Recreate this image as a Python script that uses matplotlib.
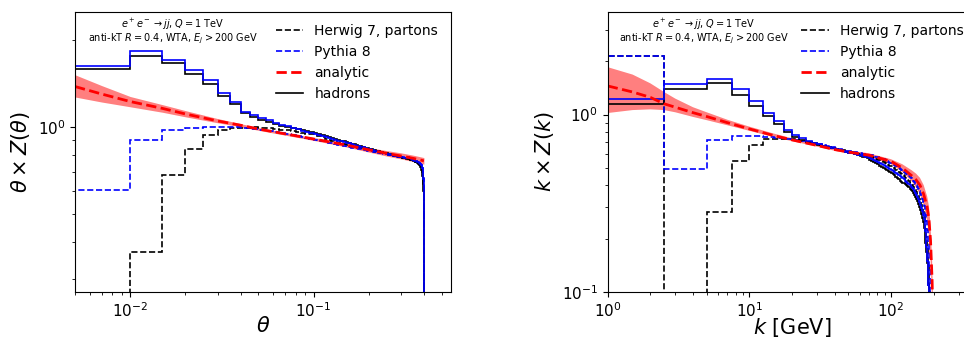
import numpy as np
import matplotlib
matplotlib.use('Agg')
import matplotlib.pyplot as plt
from matplotlib.lines import Line2D
from matplotlib.ticker import NullFormatter

# ---- left panel: theta, bins of 0.005 from 0 to 0.4 ----
theta_bin = 0.005

th_herwig_had = [3.0, 1.59, 1.765, 1.666, 1.527, 1.41, 1.285, 1.203, 1.12, 1.082,
                 1.054, 1.04, 1.025, 1.012, 1.0, 0.99, 0.982, 0.974, 0.967, 0.96,
                 0.955, 0.947, 0.939, 0.931, 0.924, 0.917, 0.911, 0.905, 0.899, 0.893,
                 0.888, 0.882, 0.877, 0.872, 0.867, 0.863, 0.858, 0.854, 0.849, 0.845,
                 0.841, 0.838, 0.835, 0.831, 0.828, 0.825, 0.822, 0.819, 0.816, 0.813,
                 0.811, 0.808, 0.806, 0.803, 0.80, 0.798, 0.796, 0.793, 0.791, 0.789,
                 0.787, 0.785, 0.783, 0.781, 0.779, 0.777, 0.775, 0.773, 0.771, 0.768,
                 0.765, 0.761, 0.757, 0.752, 0.746, 0.738, 0.727, 0.71, 0.68, 0.60]
th_pythia_had = [3.0, 1.62, 1.823, 1.697, 1.577, 1.456, 1.313, 1.219, 1.126, 1.10,
                 1.074, 1.054, 1.035, 1.02, 1.005, 0.993, 0.982, 0.972, 0.963, 0.955,
                 0.948, 0.94, 0.932, 0.925, 0.918, 0.911, 0.905, 0.899, 0.893, 0.888,
                 0.883, 0.878, 0.873, 0.868, 0.863, 0.859, 0.855, 0.851, 0.847, 0.843,
                 0.839, 0.836, 0.832, 0.829, 0.826, 0.823, 0.82, 0.817, 0.814, 0.812,
                 0.809, 0.807, 0.804, 0.802, 0.80, 0.797, 0.795, 0.793, 0.791, 0.789,
                 0.787, 0.786, 0.784, 0.782, 0.781, 0.782, 0.785, 0.781, 0.776, 0.772,
                 0.769, 0.766, 0.763, 0.76, 0.756, 0.752, 0.746, 0.738, 0.72, 0.66]
th_herwig_part = [30.0, 0.0, 0.371, 0.681, 0.842, 0.936, 0.981, 0.992, 0.995, 0.997,
                  0.995, 0.99, 0.985, 0.98, 0.974, 0.968, 0.961, 0.955, 0.949, 0.943,
                  0.937, 0.929, 0.921, 0.913, 0.905, 0.897, 0.89, 0.883, 0.876, 0.871,
                  0.866, 0.862, 0.858, 0.854, 0.85, 0.847, 0.844, 0.841, 0.838, 0.835,
                  0.832, 0.829, 0.826, 0.823, 0.82, 0.818, 0.815, 0.813, 0.81, 0.808,
                  0.806, 0.804, 0.802, 0.80, 0.798, 0.796, 0.794, 0.792, 0.79, 0.788,
                  0.786, 0.784, 0.782, 0.78, 0.778, 0.776, 0.774, 0.772, 0.77, 0.768,
                  0.766, 0.763, 0.76, 0.757, 0.753, 0.748, 0.74, 0.728, 0.70, 0.63]
th_pythia_part = [10.0, 0.609, 0.906, 0.981, 0.992, 0.998, 1.0, 0.998, 0.993, 0.985,
                  0.975, 0.968, 0.96, 0.952, 0.944, 0.937, 0.93, 0.923, 0.917, 0.911,
                  0.905, 0.899, 0.893, 0.888, 0.883, 0.878, 0.873, 0.869, 0.865, 0.861,
                  0.857, 0.853, 0.85, 0.847, 0.844, 0.841, 0.838, 0.835, 0.832, 0.83,
                  0.827, 0.825, 0.822, 0.82, 0.818, 0.816, 0.813, 0.811, 0.809, 0.807,
                  0.805, 0.803, 0.801, 0.799, 0.797, 0.795, 0.793, 0.791, 0.789, 0.787,
                  0.786, 0.784, 0.782, 0.781, 0.783, 0.787, 0.784, 0.779, 0.775, 0.772,
                  0.769, 0.766, 0.763, 0.76, 0.757, 0.753, 0.748, 0.741, 0.725, 0.67]

# analytic curve with uncertainty band
th_an = [0.005, 0.007, 0.01, 0.015, 0.02, 0.03, 0.04, 0.05, 0.07, 0.1, 0.15, 0.2, 0.25, 0.3, 0.35, 0.4]
th_an_c = [1.38, 1.30, 1.225, 1.16, 1.11, 1.05, 1.015, 0.985, 0.948, 0.91, 0.868, 0.835, 0.812, 0.795, 0.78, 0.765]
th_an_lo = [1.27, 1.22, 1.175, 1.125, 1.085, 1.035, 1.003, 0.975, 0.938, 0.90, 0.855, 0.82, 0.795, 0.777, 0.76, 0.745]
th_an_hi = [1.515, 1.39, 1.275, 1.195, 1.14, 1.07, 1.028, 0.996, 0.958, 0.921, 0.88, 0.85, 0.83, 0.815, 0.80, 0.785]

# ---- right panel: k [GeV], bins of 2.5 GeV from 0 to 200 ----
k_bin = 2.5

k_herwig_had = [1.154, 1.398, 1.497, 1.297, 1.124, 0.978, 0.88, 0.80, 0.752, 0.72,
                0.703, 0.688, 0.676, 0.665, 0.655, 0.646, 0.638, 0.631, 0.624, 0.618,
                0.61, 0.604, 0.598, 0.592, 0.586, 0.58, 0.573, 0.566, 0.558, 0.548,
                0.54, 0.532, 0.524, 0.516, 0.509, 0.502, 0.495, 0.488, 0.482, 0.476,
                0.47, 0.463, 0.455, 0.447, 0.439, 0.431, 0.425, 0.419, 0.414, 0.409,
                0.404, 0.399, 0.394, 0.389, 0.383, 0.377, 0.37, 0.362, 0.354, 0.345,
                0.335, 0.324, 0.313, 0.301, 0.289, 0.276, 0.262, 0.247, 0.23, 0.21,
                0.19, 0.168, 0.145, 0.11, 0.065, 0.03, 0.01, 0.003, 0.0, 0.0]
k_pythia_had = [1.216, 1.478, 1.592, 1.385, 1.189, 1.022, 0.917, 0.823, 0.771, 0.738,
                0.713, 0.695, 0.68, 0.667, 0.656, 0.646, 0.637, 0.629, 0.622, 0.616,
                0.61, 0.605, 0.6, 0.595, 0.59, 0.585, 0.579, 0.573, 0.567, 0.561,
                0.554, 0.547, 0.54, 0.533, 0.526, 0.519, 0.512, 0.505, 0.499, 0.493,
                0.487, 0.481, 0.475, 0.468, 0.461, 0.455, 0.449, 0.443, 0.437, 0.431,
                0.425, 0.419, 0.413, 0.407, 0.40, 0.393, 0.386, 0.379, 0.371, 0.362,
                0.353, 0.343, 0.333, 0.322, 0.311, 0.299, 0.286, 0.272, 0.257, 0.24,
                0.222, 0.18, 0.15, 0.11, 0.06, 0.03, 0.01, 0.003, 0.0, 0.0]
k_herwig_part = [2.13, 0.0, 0.282, 0.55, 0.677, 0.729, 0.733, 0.73, 0.725, 0.71,
                 0.698, 0.686, 0.675, 0.665, 0.656, 0.648, 0.641, 0.634, 0.628, 0.622,
                 0.617, 0.612, 0.607, 0.602, 0.598, 0.594, 0.59, 0.585, 0.58, 0.575,
                 0.57, 0.564, 0.558, 0.552, 0.546, 0.54, 0.534, 0.528, 0.522, 0.516,
                 0.51, 0.504, 0.497, 0.49, 0.483, 0.476, 0.469, 0.462, 0.455, 0.448,
                 0.441, 0.434, 0.427, 0.42, 0.413, 0.406, 0.399, 0.391, 0.383, 0.375,
                 0.366, 0.356, 0.346, 0.335, 0.323, 0.31, 0.296, 0.281, 0.264, 0.246,
                 0.226, 0.204, 0.178, 0.145, 0.10, 0.055, 0.02, 0.005, 0.0, 0.0]
k_pythia_part = [2.13, 0.493, 0.722, 0.754, 0.755, 0.75, 0.742, 0.733, 0.723, 0.713,
                 0.703, 0.692, 0.681, 0.671, 0.662, 0.654, 0.646, 0.639, 0.632, 0.626,
                 0.622, 0.618, 0.614, 0.61, 0.606, 0.602, 0.598, 0.595, 0.592, 0.589,
                 0.585, 0.58, 0.575, 0.57, 0.565, 0.56, 0.554, 0.548, 0.542, 0.536,
                 0.53, 0.524, 0.518, 0.512, 0.506, 0.50, 0.494, 0.488, 0.482, 0.476,
                 0.47, 0.464, 0.458, 0.452, 0.445, 0.438, 0.431, 0.424, 0.416, 0.408,
                 0.399, 0.39, 0.38, 0.37, 0.359, 0.347, 0.334, 0.32, 0.305, 0.288,
                 0.27, 0.25, 0.225, 0.19, 0.14, 0.08, 0.03, 0.008, 0.0, 0.0]

k_an = [1, 1.5, 2, 2.5, 3, 4, 5, 7, 10, 15, 20, 30, 40, 50, 70, 100, 120, 140, 150, 160, 170, 180, 185, 190, 195, 198, 200]
k_an_c = [1.45, 1.34, 1.25, 1.15, 1.10, 1.025, 0.975, 0.90, 0.83, 0.76, 0.72, 0.67, 0.635, 0.615, 0.59, 0.545,
          0.50, 0.452, 0.429, 0.40, 0.355, 0.30, 0.258, 0.195, 0.115, 0.06, 0.03]
k_an_lo = [1.02, 1.06, 1.07, 1.06, 1.03, 0.97, 0.93, 0.87, 0.81, 0.745, 0.708, 0.66, 0.625, 0.604, 0.575, 0.525,
           0.475, 0.42, 0.39, 0.355, 0.31, 0.25, 0.21, 0.155, 0.085, 0.04, 0.02]
k_an_hi = [1.85, 1.68, 1.50, 1.34, 1.23, 1.10, 1.03, 0.935, 0.855, 0.78, 0.735, 0.682, 0.647, 0.627, 0.605, 0.56,
           0.525, 0.485, 0.465, 0.44, 0.40, 0.345, 0.305, 0.24, 0.15, 0.09, 0.05]

annot = "$e^+e^-\\rightarrow jj$, $Q=1$ TeV\nanti-kT $R=0.4$, WTA, $E_j>200$ GeV"


def draw_panel(ax, edges, had_h, had_p, part_h, part_p, xa, ac, alo, ahi):
    ax.fill_between(xa, alo, ahi, color='r', alpha=0.5, lw=0)
    ax.plot(xa, ac, 'r--', lw=2)
    ax.stairs(part_h, edges, baseline=0, color='k', ls='--', lw=1.2)
    ax.stairs(part_p, edges, baseline=0, color='b', ls='--', lw=1.2)
    ax.stairs(had_h, edges, baseline=0, color='k', ls='-', lw=1.2)
    ax.stairs(had_p, edges, baseline=0, color='b', ls='-', lw=1.2)
    ax.set_xscale('log')
    ax.set_yscale('log')
    ax.yaxis.set_minor_formatter(NullFormatter())
    ax.xaxis.set_minor_formatter(NullFormatter())
    ax.tick_params(labelsize=11)
    handles = [Line2D([], [], color='k', ls='--', lw=1.2),
               Line2D([], [], color='b', ls='--', lw=1.2),
               Line2D([], [], color='r', ls='--', lw=2),
               Line2D([], [], color='k', ls='-', lw=1.2)]
    ax.legend(handles, ['Herwig 7, partons', 'Pythia 8', 'analytic', 'hadrons'],
              loc='upper right', frameon=False, fontsize=10)
    ax.text(0.26, 0.929, annot, transform=ax.transAxes, ha='center', va='center',
            multialignment='center', fontsize=7, linespacing=0.95)


fig = plt.figure(figsize=(9.64, 3.38), dpi=100)
ax1 = fig.add_axes([0.0778, 0.1361, 0.3897, 0.8293])
ax2 = fig.add_axes([0.6304, 0.1361, 0.3824, 0.8293])

th_edges = np.arange(0, len(th_herwig_had) + 1) * theta_bin
draw_panel(ax1, th_edges, th_herwig_had, th_pythia_had, th_herwig_part, th_pythia_part,
           th_an, th_an_c, th_an_lo, th_an_hi)
ax1.set_xlim(0.005, 0.56)
ax1.set_ylim(0.27, 2.5)
ax1.set_xlabel(r'$\theta$', fontsize=15, labelpad=-3.5)
ax1.set_ylabel(r'$\theta\times Z(\theta)$', fontsize=15)

k_edges = np.arange(0, len(k_herwig_had) + 1) * k_bin
draw_panel(ax2, k_edges, k_herwig_had, k_pythia_had, k_herwig_part, k_pythia_part,
           k_an, k_an_c, k_an_lo, k_an_hi)
ax2.set_xlim(1, 400)
ax2.set_ylim(0.1, 3.8)
ax2.set_xlabel(r'$k$ [GeV]', fontsize=15, labelpad=-3.5)
ax2.set_ylabel(r'$k\times Z(k)$', fontsize=15)

fig.savefig('out.png', dpi=100)
